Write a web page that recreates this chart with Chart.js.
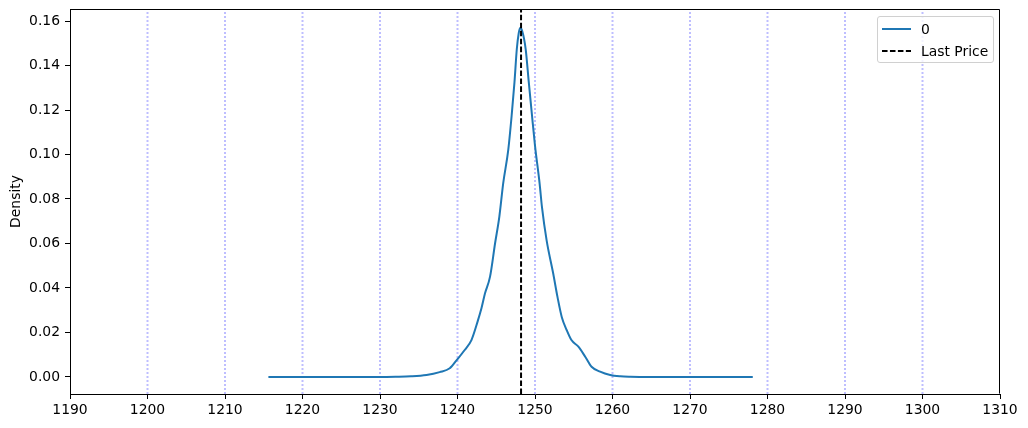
<!DOCTYPE html>
<html>
<head>
<meta charset="utf-8">
<script src="https://cdn.jsdelivr.net/npm/chart.js@4.4.1/dist/chart.umd.min.js"></script>
<style>
  html, body { margin: 0; padding: 0; background: #fff; }
  #wrap { position: relative; width: 1028px; height: 428px; }
  #legend { position: absolute; left: 877px; top: 16px; width: 115px; height: 45px;
    border: 1px solid #d0d0d0; border-radius: 3px; background: rgba(255,255,255,0.8);
    font-family: "DejaVu Sans", sans-serif; font-size: 13.9px; color: #000; }
  .lg-item { position: absolute; left: 0; height: 20px; width: 115px; }
  .lg-item svg { position: absolute; left: 3px; top: 0; }
  .lg-item span { position: absolute; left: 43px; top: 1px; line-height: 18px; white-space: nowrap; }
</style>
</head>
<body>
<div id="wrap">
  <canvas id="c" width="1028" height="428"></canvas>
  <div id="legend"></div>
</div>
<script>
// ---- data ----
const kdeX = [1215.6, 1220, 1225, 1230, 1232, 1234, 1236, 1237.7, 1239, 1239.9, 1240.9, 1241.8, 1242.6, 1243.1, 1243.55, 1244.2, 1244.85, 1245.4, 1245.9, 1246.55, 1247.0, 1247.35, 1247.65, 1247.9, 1248.1, 1248.35, 1248.8, 1249.2, 1249.6, 1250.0, 1250.6, 1250.9, 1251.5, 1252.35, 1252.9, 1253.45, 1254.1, 1254.7, 1255.6, 1256.5, 1257.3, 1258.4, 1259.7, 1261, 1262.3, 1265, 1270, 1278.1];
const kdeY = [0, 0, 0, 0, 0.0001, 0.0003, 0.0009, 0.0022, 0.0039, 0.0076, 0.012, 0.0166, 0.025, 0.031, 0.0376, 0.0451, 0.0601, 0.0721, 0.0871, 0.1021, 0.118, 0.1324, 0.1473, 0.1545, 0.157, 0.1555, 0.1473, 0.1324, 0.118, 0.104, 0.0868, 0.0763, 0.0614, 0.0465, 0.036, 0.027, 0.021, 0.0166, 0.0136, 0.009, 0.0046, 0.0024, 0.0009, 0.0003, 0.0001, 0, 0, 0];
const lastPrice = 1248.2;
const vlineX = [1200, 1210, 1220, 1230, 1240, 1250, 1260, 1270, 1280, 1290, 1300, 1310];
const xTicks = [1190, 1200, 1210, 1220, 1230, 1240, 1250, 1260, 1270, 1280, 1290, 1300, 1310];
const yTicks = [0, 0.02, 0.04, 0.06, 0.08, 0.10, 0.12, 0.14, 0.16];
const xMin = 1190, xMax = 1310, yMin = -0.00765, yMax = 0.1654;
const seriesLabel = "0";
const lastLabel = "Last Price";
const yTitle = "Density";

const FONT = { family: "'DejaVu Sans', sans-serif", size: 13.9 };

const datasets = [];
vlineX.forEach(v => {
  datasets.push({
    label: '_vline', data: [{x: v, y: yMin}, {x: v, y: yMax}],
    borderColor: 'rgba(40,40,255,0.3)', borderWidth: 2, borderDash: [2, 2],
    pointRadius: 0, fill: false, order: 3, _hide: true
  });
});
datasets.push({
  label: seriesLabel, data: kdeX.map((x, i) => ({x, y: kdeY[i]})),
  borderColor: '#1f77b4', borderWidth: 2, pointRadius: 0, fill: false,
  cubicInterpolationMode: 'monotone', order: 2, _sample: 'solid'
});
datasets.push({
  label: lastLabel, data: [{x: lastPrice, y: yMin}, {x: lastPrice, y: yMax}],
  borderColor: '#000000', borderWidth: 2, borderDash: [5.55, 2.4], pointRadius: 0,
  fill: false, order: 1, _sample: 'dashed'
});

const boxPlugin = {
  id: 'box',
  afterDraw(chart) {
    const {ctx, chartArea: a} = chart;
    ctx.save();
    ctx.strokeStyle = '#000';
    ctx.lineWidth = 1;
    ctx.beginPath();
    ctx.moveTo(Math.round(a.left) + 0.5, Math.round(a.top) + 0.5);
    ctx.lineTo(Math.round(a.right) - 0.5, Math.round(a.top) + 0.5);
    ctx.lineTo(Math.round(a.right) - 0.5, Math.round(a.bottom) - 0.5);
    ctx.stroke();
    ctx.restore();
  }
};

const chart = new Chart(document.getElementById('c'), {
  type: 'line',
  data: { datasets },
  options: {
    responsive: false,
    animation: false,
    devicePixelRatio: 1,
    layout: { padding: { left: 0, top: 9, right: 28, bottom: 0 } },
    plugins: { legend: { display: false }, tooltip: { enabled: false } },
    scales: {
      x: {
        type: 'linear', min: xMin, max: xMax,
        afterBuildTicks: s => { s.ticks = xTicks.map(v => ({value: v})); },
        afterFit: s => { s.height = 34; s.paddingLeft = 0; s.paddingRight = 0; },
        grid: { drawOnChartArea: false, drawTicks: true, tickLength: 5, color: '#000' },
        border: { display: true, color: '#000', width: 1 },
        ticks: { color: '#000', font: FONT, padding: 3, maxRotation: 0, autoSkip: false,
                 callback: v => String(v) }
      },
      y: {
        type: 'linear', min: yMin, max: yMax,
        afterBuildTicks: s => { s.ticks = yTicks.map(v => ({value: v})); },
        afterFit: s => { s.width = 70; s.paddingTop = 0; s.paddingBottom = 0; },
        grid: { drawOnChartArea: false, drawTicks: true, tickLength: 5, color: '#000' },
        border: { display: true, color: '#000', width: 1 },
        ticks: { color: '#000', font: FONT, padding: 5, autoSkip: false,
                 callback: v => Number(v).toFixed(2) },
        title: { display: true, text: yTitle, color: '#000', font: FONT, padding: { top: 8.5, bottom: 0 } }
      }
    }
  },
  plugins: [boxPlugin]
});

// HTML legend built from the datasets
const legend = document.getElementById('legend');
chart.data.datasets.filter(d => !d._hide).forEach((d, i) => {
  const item = document.createElement('div');
  item.className = 'lg-item';
  item.style.top = (2 + i * 22) + 'px';
  const dash = d._sample === 'dashed' ? ' stroke-dasharray="5.55 2.4"' : '';
  item.innerHTML = '<svg width="32" height="20"><line x1="1" y1="10" x2="30" y2="10" stroke="' +
    d.borderColor + '" stroke-width="2"' + dash + '/></svg>';
  const sp = document.createElement('span');
  sp.textContent = d.label;
  item.appendChild(sp);
  legend.appendChild(item);
});
</script>
</body>
</html>
